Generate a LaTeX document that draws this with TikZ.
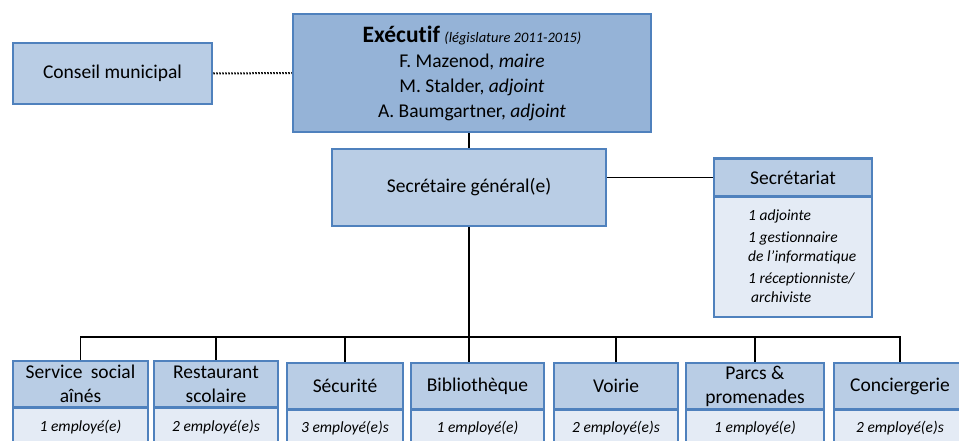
\documentclass[tikz,border=0pt]{standalone}
\usepackage{fontspec}
\setmainfont{Carlito}[Ligatures=NoCommon]

\definecolor{boxline}{RGB}{79,129,189}
\definecolor{boxfill}{RGB}{185,205,229}
\definecolor{execfill}{RGB}{149,179,215}
\definecolor{bodyfill}{RGB}{228,235,245}

\begin{document}
\begin{tikzpicture}[x=1pt,y=-1pt,
  orgbox/.style={draw=boxline, line width=2.5pt, fill=boxfill, inner sep=0pt, align=center, font=\fontsize{19.5}{24}\selectfont},
  bodybox/.style={draw=boxline, line width=2.5pt, fill=bodyfill, inner sep=0pt, align=center, font=\fontsize{15.5}{19}\selectfont\itshape},
  link/.style={line width=1.5pt}]

\useasboundingbox (0,0) rectangle (959,441);
\clip (0,0) rectangle (959,441);

% top level
\node[orgbox, minimum width=199pt, minimum height=61pt] (conseil) at (112.5,73.5) {Conseil municipal};
\node[orgbox, fill=execfill, minimum width=358pt, minimum height=118pt, font=\fontsize{19.5}{25}\selectfont] (exec) at (472,73)
  {\textbf{\fontsize{23.5}{25}\selectfont Exécutif}\ \textit{\fontsize{14.5}{25}\selectfont (législature 2011-2015)}\\
   F. Mazenod, \textit{maire}\\
   M. Stalder, \textit{adjoint}\\
   A. Baumgartner, \textit{adjoint}};
\node[orgbox, minimum width=274pt, minimum height=77pt] (secgen) at (469,187.5) {Secrétaire général(e)};

% secretariat
\node[bodybox, minimum width=158pt, minimum height=120pt] (secbody) at (793,257) {};
\node[orgbox, minimum width=158pt, minimum height=38pt] (sechead) at (793,177.5) {Secrétariat};
\node[anchor=north west, inner sep=0pt, align=left, font=\fontsize{15.5}{19}\selectfont\itshape] (sectxt) at (748,210)
  {1 adjointe\\[3pt]
   1 gestionnaire\\
   de l’informatique\\[3pt]
   1 réceptionniste/\\
   \hspace{3pt}archiviste};

% services
\node[bodybox, minimum width=135pt, minimum height=38pt] (b1) at (80.5,427) {1 employé(e)};
\node[orgbox, minimum width=135pt, minimum height=46pt] (h1) at (80.5,384) {Service\hspace{0.2em} social\\aînés};
\node[bodybox, minimum width=124pt, minimum height=38pt] (b2) at (216,427) {2 employé(e)s};
\node[orgbox, minimum width=124pt, minimum height=46pt] (h2) at (216,384) {Restaurant\\scolaire};
\node[bodybox, minimum width=116pt, minimum height=36pt] (b3) at (345,428) {3 employé(e)s};
\node[orgbox, minimum width=116pt, minimum height=46pt] (h3) at (345,386) {Sécurité};
\node[bodybox, minimum width=133pt, minimum height=36pt] (b4) at (477.5,428) {1 employé(e)};
\node[orgbox, minimum width=133pt, minimum height=46pt] (h4) at (477.5,386) {Bibliothèque};
\node[bodybox, minimum width=124pt, minimum height=36pt] (b5) at (616,428) {2 employé(e)s};
\node[orgbox, minimum width=124pt, minimum height=46pt] (h5) at (616,386) {Voirie};
\node[bodybox, minimum width=138pt, minimum height=36pt] (b6) at (755,428) {1 employé(e)};
\node[orgbox, minimum width=138pt, minimum height=46pt] (h6) at (755,386) {Parcs \&\\promenades};
\node[bodybox, minimum width=132pt, minimum height=36pt] (b7) at (900,428) {2 employé(e)s};
\node[orgbox, minimum width=132pt, minimum height=46pt] (h7) at (900,386) {Conciergerie};

% connectors
\coordinate (bus) at (469,337);
\draw[link, dash pattern=on 1.5pt off 1.5pt, line width=2pt] (conseil.east) -- (exec.west);
\draw[link] (exec.south -| secgen.north) -- (secgen.north);
\draw[link] (sechead.west) -- (sechead.west -| secgen.east);
\draw[link] (secgen.south) -- (secgen.south |- h4.north);
\draw[link] (h1.north) -- (h1.north |- bus) -- (h7.north |- bus) -- (h7.north);
\draw[link] (h2.north) -- (h2.north |- bus);
\draw[link] (h3.north) -- (h3.north |- bus);
\draw[link] (h5.north) -- (h5.north |- bus);
\draw[link] (h6.north) -- (h6.north |- bus);

\end{tikzpicture}
\end{document}
